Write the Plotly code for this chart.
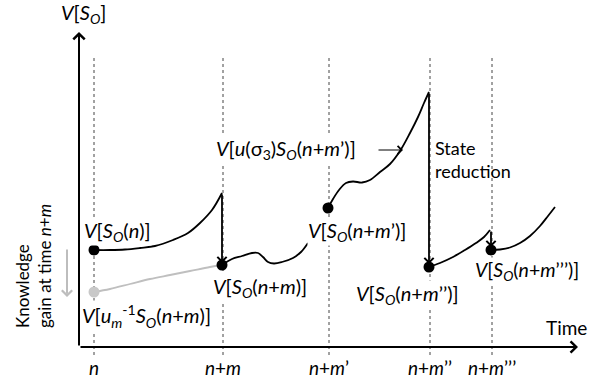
import plotly.graph_objects as go

# ---- data (x: time position, y: value V, both in chart units) ----
tick_x = [94, 223, 329, 430, 492]
tick_labels = ["<i>n</i>", "<i>n</i>+<i>m</i>", "<i>n</i>+<i>m</i>’",
               "<i>n</i>+<i>m</i>’’", "<i>n</i>+<i>m</i>’’’"]

# evolution of V after time n
curveA_t = [94, 110, 125, 140, 155, 173, 188, 200, 212, 222]
curveA_v = [132, 132, 132.5, 134, 136, 142, 149, 159, 172, 189]

# gray back-propagated curve V[u_m^-1 S_O(n+m)]
curveG_t = [94, 110, 130, 150, 170, 190, 210, 222]
curveG_v = [90, 93, 98, 103, 107, 111, 115, 117]

# after n+m
curveC_t = [222, 232, 242, 252, 258, 263, 268, 274, 282, 293, 301, 308]
curveC_v = [117, 123, 126, 129, 129, 125, 120, 118.5, 120, 124, 130, 139]

# after n+m'
curveD_t = [328, 333, 339, 346, 353, 362, 370, 380, 390, 400, 410, 418, 424, 429]
curveD_v = [174, 183, 192, 199, 200.5, 199.5, 202, 210, 218, 231, 249, 265, 279, 290]

# after n+m''
curveE_t = [429, 440, 453, 465, 476, 484, 490]
curveE_v = [115, 119, 125, 132, 139, 145, 152]

# after n+m'''
curveF_t = [491, 500, 510, 520, 530, 540, 548, 555]
curveF_v = [132, 132.5, 134.5, 139, 146, 156, 166, 175]

dots_t = [94, 222, 328, 429, 491]
dots_v = [132, 117, 174, 115, 132]
gray_dot_t = [94]
gray_dot_v = [90]

# state reductions (time, from, to)
drops = [(222, 189, 119), (429, 290, 118), (491, 152, 135)]

axis_origin = (79, 35)
x_axis_end = 578
y_axis_end = 350
dash_top, dash_bottom = 324, 22

FONT = "Lato"
fig = go.Figure()

# dashed vertical guides
for tx in tick_x:
    fig.add_trace(go.Scatter(x=[tx, tx], y=[dash_top, dash_bottom], mode="lines",
                             line=dict(color="#444444", width=1, dash="3px,3px"),
                             hoverinfo="skip", showlegend=False))

for t, v, c in [(curveG_t, curveG_v, "#bfbfbf"), (curveA_t, curveA_v, "black"),
                (curveC_t, curveC_v, "black"), (curveD_t, curveD_v, "black"),
                (curveE_t, curveE_v, "black"), (curveF_t, curveF_v, "black")]:
    fig.add_trace(go.Scatter(x=t, y=v, mode="lines", line=dict(color=c, width=1.8, shape="spline"),
                             hoverinfo="skip", showlegend=False))

fig.add_trace(go.Scatter(x=gray_dot_t, y=gray_dot_v, mode="markers",
                         marker=dict(color="#c8c8c8", size=11), showlegend=False, hoverinfo="skip"))
fig.add_trace(go.Scatter(x=dots_t, y=dots_v, mode="markers",
                         marker=dict(color="black", size=11), showlegend=False, hoverinfo="skip"))

ann = []
def arrow(x0, y0, x1, y1, color="black", width=1.8, head=4, size=1.0):
    ann.append(dict(x=x1, y=y1, ax=x0, ay=y0, xref="x", yref="y", axref="x", ayref="y",
                    showarrow=True, arrowhead=head, arrowsize=size, arrowwidth=width,
                    arrowcolor=color, text=""))

# axes
arrow(axis_origin[0], axis_origin[1], axis_origin[0], y_axis_end, width=2, head=4, size=1.1)
arrow(axis_origin[0], axis_origin[1], x_axis_end, axis_origin[1], width=2, head=4, size=1.1)
# drops
for t, v0, v1 in drops:
    arrow(t, v0, t, v1, width=1.8, head=4, size=1.0)
# small pointer arrow
arrow(377, 232, 403, 232, width=1, head=4, size=1.6)
# knowledge-gain arrow
arrow(67, 134, 67, 85, color="#bdbdbd", width=2, head=4, size=1.0)

def label(text, x, y, xanchor="left", bg=True, size=20, **kw):
    d = dict(x=x, y=y, xref="x", yref="y", text=text, showarrow=False,
             xanchor=xanchor, yanchor="middle", font=dict(family=FONT, size=size, color="black"),
             borderpad=0)
    if bg:
        d["bgcolor"] = "white"
    d.update(kw)
    ann.append(d)

label("<i>V</i>[<i>S<sub>O</sub></i>]", 83, 369, xanchor="center", bg=False)
label("<i>V</i>[<i>S<sub>O</sub></i>(<i>n</i>)]", 83, 151)
label("<i>V</i>[<i>u<sub>m</sub></i><sup>-1</sup><i>S<sub>O</sub></i>(<i>n</i>+<i>m</i>)]", 81, 66)
label("<i>V</i>[<i>S<sub>O</sub></i>(<i>n</i>+<i>m</i>)]", 212, 95)
label("<i>V</i>[<i>u</i>(σ<sub>3</sub>)<i>S<sub>O</sub></i>(<i>n</i>+<i>m</i>’)]", 215, 233)
label("State<br>reduction", 434, 223, align="left", bg=False, size=18)
label("<i>V</i>[<i>S<sub>O</sub></i>(<i>n</i>+<i>m</i>’)]", 307, 151)
label("<i>V</i>[<i>S<sub>O</sub></i>(<i>n</i>+<i>m</i>’’)]", 355, 88)
label("<i>V</i>[<i>S<sub>O</sub></i>(<i>n</i>+<i>m</i>’’’)]", 474, 111, size=19.5)
label("Time", 588, 55, xanchor="right", bg=False, size=19)
label("Knowledge<br>gain at time <i>n</i>+<i>m</i>", 33, 116, xanchor="center", bg=False,
      size=17, textangle=-90, align="left")
for tx, tl in zip(tick_x, tick_labels):
    label(tl, tx, 15, xanchor="center", size=19)

fig.update_layout(
    width=590, height=382, margin=dict(l=0, r=0, t=0, b=0),
    paper_bgcolor="white", plot_bgcolor="white",
    xaxis=dict(range=[0, 590], visible=False, fixedrange=True),
    yaxis=dict(range=[0, 382], visible=False, fixedrange=True),
    annotations=ann, showlegend=False,
)
fig.write_html("out.html", config={"displayModeBar": False},
               post_script="document.body.style.margin='0';document.body.style.overflow='hidden';")
